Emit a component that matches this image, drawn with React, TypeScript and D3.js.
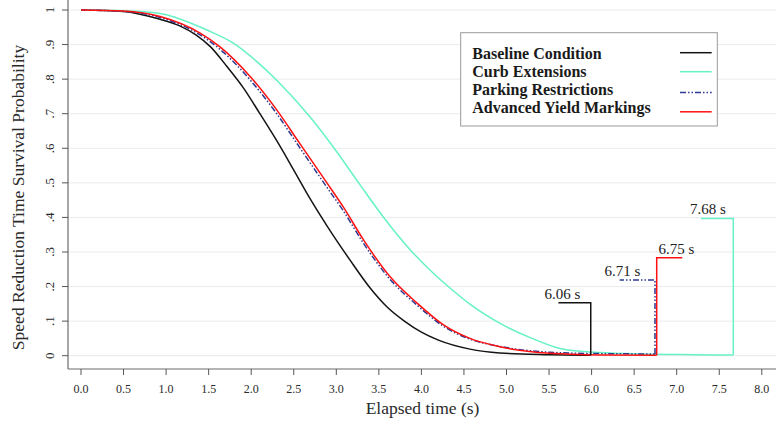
import React from "react";
import * as d3 from "d3";

// ---- data ----
const xTickValues = [0, 0.5, 1, 1.5, 2, 2.5, 3, 3.5, 4, 4.5, 5, 5.5, 6, 6.5, 7, 7.5, 8];
const yTickValues = [0, 0.1, 0.2, 0.3, 0.4, 0.5, 0.6, 0.7, 0.8, 0.9, 1];

const seriesNames = ["Baseline Condition", "Curb Extensions", "Parking Restrictions", "Advanced Yield Markings"];

const baseline: [number, number][] = [
  [0, 1], [0.5, 0.996], [0.93, 0.973], [1.16, 0.954], [1.35, 0.928], [1.52, 0.894], [1.71, 0.838],
  [1.91, 0.774], [2.1, 0.701], [2.3, 0.622], [2.5, 0.537], [2.69, 0.455], [2.9, 0.372], [3.16, 0.277],
  [3.4, 0.195], [3.6, 0.14], [3.8, 0.1], [4.0, 0.068], [4.2, 0.045], [4.57, 0.019], [4.92, 0.008],
  [5.5, 0.003], [5.99, 0.001],
];
const curb: [number, number][] = [
  [0, 1], [0.5, 0.998], [0.93, 0.99], [1.48, 0.942], [1.79, 0.904], [2.07, 0.85], [2.3, 0.797],
  [2.69, 0.691], [2.96, 0.605], [3.28, 0.494], [3.55, 0.402], [3.87, 0.306], [4.1, 0.248], [4.34, 0.195],
  [4.57, 0.149], [4.92, 0.094], [5.3, 0.05], [5.63, 0.021], [6.1, 0.009], [6.6, 0.005], [7.2, 0.003], [7.665, 0.002],
];
const parking: [number, number][] = [
  [0, 1], [0.5, 0.996], [0.93, 0.978], [1.4, 0.928], [1.63, 0.887], [1.99, 0.797], [2.3, 0.7],
  [2.57, 0.602], [2.89, 0.487], [3.08, 0.42], [3.32, 0.325], [3.63, 0.221], [3.95, 0.146], [4.26, 0.085],
  [4.57, 0.048], [4.92, 0.027], [5.51, 0.01], [6.1, 0.006], [6.745, 0.005],
];
const yieldMarks: [number, number][] = [
  [0, 1], [0.5, 0.997], [0.93, 0.981], [1.4, 0.933], [1.63, 0.894], [1.99, 0.807], [2.3, 0.711],
  [2.57, 0.614], [2.89, 0.5], [3.08, 0.431], [3.32, 0.335], [3.63, 0.229], [3.95, 0.152], [4.26, 0.089],
  [4.57, 0.05], [4.92, 0.026], [5.51, 0.007], [6.1, 0.002], [6.765, 0.001],
];

// end-of-curve markers: vertical at end time, horizontal to arm end, label
const endTimes = [5.99, 7.665, 6.745, 6.765];
const markerTops = [0.153, 0.397, 0.219, 0.2835];
const armEnds = [5.61, 7.285, 6.33, 7.066];
const markerLabels = ["6.06 s", "7.68 s", "6.71 s", "6.75 s"];
const labelCenters = [5.658, 7.368, 6.363, 6.996];

const colors = ["#141414", "#66f2c6", "#2e3a92", "#ff1010"];
const dashes = [null, null, "6,2,1.5,2,1.5,2", null];
const legendKeyY = [52.7, 71.7, 92.4, 111.8];

const FONT = "'Liberation Serif', 'Times New Roman', serif";

export default function App() {
  const W = 776, H = 423;
  const x = d3.scaleLinear().domain([0, 8]).range([81, 761.8]);
  const y = d3.scaleLinear().domain([0, 1]).range([355.7, 10]);
  const line = d3.line<[number, number]>().x(d => x(d[0])).y(d => y(d[1])).curve(d3.curveMonotoneX);
  const all = [baseline, curb, parking, yieldMarks];
  const axisLeft = 68, axisBottom = 369;
  const fmtY = (v: number) => (v === 0 ? "0" : v === 1 ? "1" : d3.format(".1f")(v).replace(/^0/, ""));

  return (
    <svg width={W} height={H} style={{ position: "absolute", left: 0, top: 0, background: "#fff" }} fontFamily={FONT}>
      <rect x={0} y={0} width={W} height={H} fill="#fff" />
      {/* grid */}
      {yTickValues.map(v => (
        <line key={"g" + v} x1={axisLeft} x2={W} y1={y(v)} y2={y(v)} stroke="#ebebeb" strokeWidth={1} />
      ))}
      {/* axes */}
      <line x1={axisLeft} x2={axisLeft} y1={0} y2={axisBottom} stroke="#6a6a6a" strokeWidth={1.2} />
      <line x1={axisLeft} x2={W} y1={axisBottom} y2={axisBottom} stroke="#6a6a6a" strokeWidth={1.2} />
      {yTickValues.map(v => (
        <g key={"yt" + v}>
          <line x1={axisLeft - 6} x2={axisLeft} y1={y(v)} y2={y(v)} stroke="#555" strokeWidth={1} />
          <text transform={`translate(53.5,${y(v)}) rotate(-90)`} textAnchor="middle" fontSize={13} fill="#2a2a2a">
            {fmtY(v)}
          </text>
        </g>
      ))}
      {xTickValues.map(v => (
        <g key={"xt" + v}>
          <line x1={x(v)} x2={x(v)} y1={axisBottom} y2={axisBottom + 6} stroke="#555" strokeWidth={1} />
          <text x={x(v)} y={392.5} textAnchor="middle" fontSize={12} fill="#2a2a2a">
            {d3.format(".1f")(v)}
          </text>
        </g>
      ))}
      <text x={422.5} y={414} textAnchor="middle" fontSize={17.5} fill="#2a2a2a">Elapsed time (s)</text>
      <text transform="translate(23.5,197.5) rotate(-90)" textAnchor="middle" fontSize={17.5} fill="#2a2a2a">
        Speed Reduction Time Survival Probability
      </text>

      {/* curves */}
      {all.map((s, i) => (
        <path key={"c" + i} d={line(s) || ""} fill="none" stroke={colors[i]} strokeWidth={1.5}
          strokeDasharray={dashes[i] || undefined} />
      ))}
      {/* end markers */}
      {all.map((s, i) => {
        const last = s[s.length - 1];
        const pts: [number, number][] = [[endTimes[i], last[1]], [endTimes[i], markerTops[i]], [armEnds[i], markerTops[i]]];
        return (
          <g key={"m" + i}>
            <path d={d3.line<[number, number]>().x(d => x(d[0])).y(d => y(d[1]))(pts) || ""} fill="none"
              stroke={colors[i]} strokeWidth={1.5} strokeDasharray={dashes[i] || undefined} />
            <text x={x(labelCenters[i])} y={y(markerTops[i]) - 4} textAnchor="middle" fontSize={15} fill="#222">
              {markerLabels[i]}
            </text>
          </g>
        );
      })}

      {/* legend */}
      <rect x={460.7} y={32.7} width={256.6} height={93.3} fill="#fff" stroke="#9a9a9a" strokeWidth={1} />
      {seriesNames.map((n, i) => (
        <g key={"l" + i}>
          <text x={472.3} y={59.3 + i * 18} fontSize={16} fontWeight="bold" fill="#1a1a1a">{n}</text>
          <line x1={680} x2={711.7} y1={legendKeyY[i]} y2={legendKeyY[i]} stroke={colors[i]} strokeWidth={1.5}
            strokeDasharray={dashes[i] || undefined} />
        </g>
      ))}
    </svg>
  );
}
